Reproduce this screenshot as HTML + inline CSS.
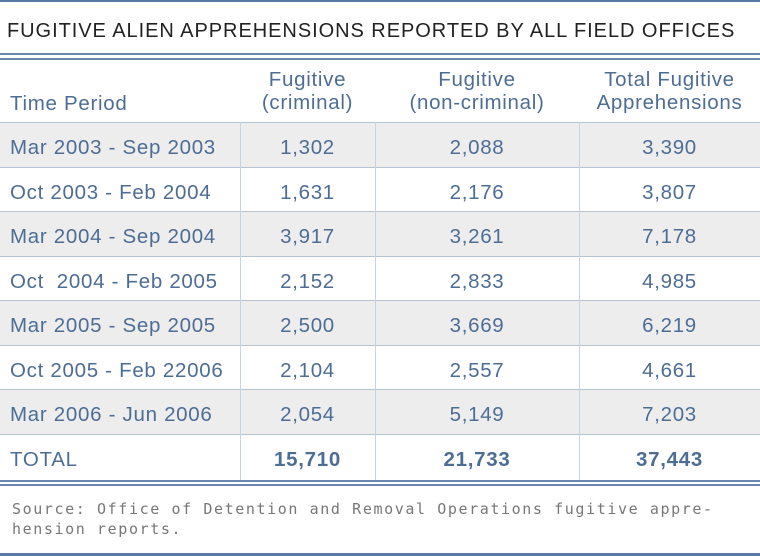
<!DOCTYPE html>
<html><head><style>
body{margin:0;width:760px;height:556px;background:#fff;position:relative;overflow:hidden;font-family:"Liberation Sans",sans-serif}
.a{position:absolute}
.h{left:0;width:760px}
.t{color:#4d6d95;font-size:20.5px;letter-spacing:0.7px;white-space:nowrap}
.c{text-align:center}
.v{position:absolute;width:1px;background:#c8d3e0;top:122px;height:360px}
</style></head><body>
<div class="a h" style="top:0;height:2px;background:#5a7ba3"></div>
<div class="a" style="left:7px;top:20px;font-size:20px;color:#222;letter-spacing:0.95px;white-space:nowrap">FUGITIVE ALIEN APPREHENSIONS REPORTED BY ALL FIELD OFFICES</div>
<div class="a h" style="top:53px;height:2px;background:#6a88ad"></div>
<div class="a h" style="top:58px;height:2px;background:#6a88ad"></div>
<div class="a t" style="left:10px;top:92px">Time Period</div>
<div class="a t c" style="left:240px;width:135px;top:68px;line-height:23px">Fugitive<br>(criminal)</div>
<div class="a t c" style="left:375px;width:204px;top:68px;line-height:23px">Fugitive<br>(non-criminal)</div>
<div class="a t c" style="left:579px;width:181px;top:68px;line-height:23px">Total Fugitive<br>Apprehensions</div>
<div class="a h" style="top:122px;height:1px;background:#b5c3d4"></div>
<div id="rows"></div>
<script>
var d=[["Mar 2003 - Sep 2003","1,302","2,088","3,390"],["Oct 2003 - Feb 2004","1,631","2,176","3,807"],["Mar 2004 - Sep 2004","3,917","3,261","7,178"],["Oct&nbsp; 2004 - Feb 2005","2,152","2,833","4,985"],["Mar 2005 - Sep 2005","2,500","3,669","6,219"],["Oct 2005 - Feb 22006","2,104","2,557","4,661"],["Mar 2006 - Jun 2006","2,054","5,149","7,203"],["TOTAL","15,710","21,733","37,443"]];
var h="";var ys=[123,168,212,257,301,346,390,435,480];
for(var i=0;i<8;i++){var y=ys[i],hh=ys[i+1]-y-1;var bg=(i%2==0&&i<7)?"#ededed":"#fff";var b=i==7?"font-weight:bold;":"";
h+='<div class="a h" style="top:'+y+'px;height:'+hh+'px;background:'+bg+'"></div>';
if(i<7)h+='<div class="a h" style="top:'+(y+hh)+'px;height:1px;background:#b5c3d4"></div>';
var ty=y+13;
h+='<div class="a t" style="left:10px;top:'+ty+'px">'+d[i][0]+'</div>';
h+='<div class="a t c" style="left:240px;width:135px;top:'+ty+'px;'+b+'">'+d[i][1]+'</div>';
h+='<div class="a t c" style="left:375px;width:204px;top:'+ty+'px;'+b+'">'+d[i][2]+'</div>';
h+='<div class="a t c" style="left:579px;width:181px;top:'+ty+'px;'+b+'">'+d[i][3]+'</div>';}
document.getElementById("rows").innerHTML=h;
</script>
<div class="v" style="left:240px"></div>
<div class="v" style="left:375px"></div>
<div class="v" style="left:579px"></div>
<div class="a h" style="top:480px;height:2px;background:#6a88ad"></div>
<div class="a h" style="top:484px;height:2px;background:#6a88ad"></div>
<div class="a" style="left:12px;top:499px;font-family:'DejaVu Sans Mono','Liberation Mono',monospace;font-size:15px;line-height:20px;color:#777;letter-spacing:1.6px;white-space:nowrap">Source: Office of Detention and Removal Operations fugitive appre-<br>hension reports.</div>
<div class="a h" style="top:553px;height:3px;background:#5a7ba3"></div>
</body></html>
